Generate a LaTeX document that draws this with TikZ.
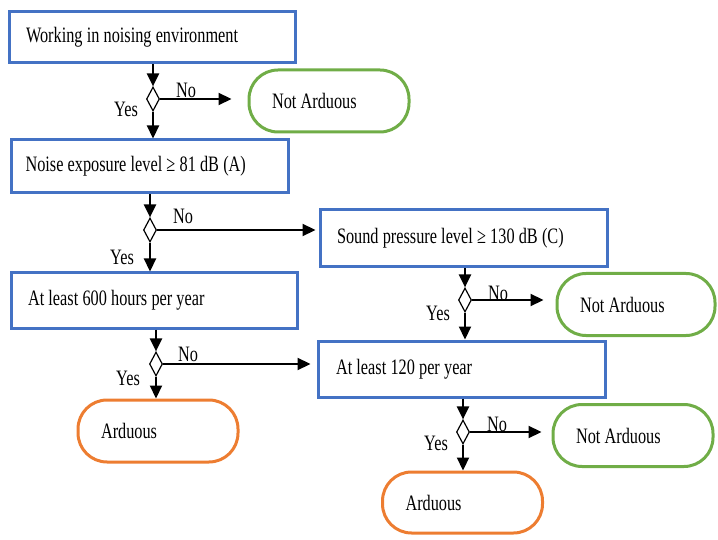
\documentclass[tikz,border=0pt]{standalone}
\usepackage{fontspec}
\setmainfont{Liberation Serif}[FakeStretch=0.74]
\usetikzlibrary{arrows.meta,shapes.geometric}
\definecolor{stepblue}{HTML}{4472C4}
\definecolor{leafgreen}{HTML}{70AD47}
\definecolor{tangerine}{HTML}{ED7D31}
\newcommand{\flowfont}{\fontsize{22}{25}\selectfont}

\begin{document}
\begin{tikzpicture}[x=1pt,y=-1pt,
  every node/.style={execute at begin node={\spaceskip=4.2pt plus 1pt minus 1pt\relax}},
  box/.style={draw=stepblue,line width=3pt,text width=252pt,inner xsep=17pt,align=left,font=\flowfont},
  term/.style={draw=#1,line width=3pt,rounded corners=29pt,minimum height=62pt,text width=114pt,inner xsep=23pt,align=left,font=\flowfont},
  dec/.style={draw,fill=white,diamond,line width=1.2pt,inner sep=0pt,minimum width=13pt,minimum height=24pt},
  lbl/.style={font=\flowfont,inner sep=0pt},
  arr/.style={-{Triangle[length=13pt,width=12pt]},line width=2.2pt}
]
  \useasboundingbox (0,0) rectangle (718,540);
  \node[box,minimum height=51pt] (work) at (152,37.5) {Working in noising environment};
  \node[box,minimum height=53pt,text width=249pt,inner xsep=14pt] (noise) at (150,166.5) {Noise exposure level ≥ 81 dB (A)};
  \node[box,minimum height=57pt,text width=253pt] (sound) at (463.5,238.5) {Sound pressure level ≥ 130 dB (C)};
  \node[box,minimum height=55pt] (hours) at (154,300.5) {At least 600 hours per year};
  \node[box,minimum height=56pt,text width=251pt,inner xsep=18pt] (times) at (461.5,369) {At least 120 per year};
  \node[term=leafgreen] (na1) at (329,101) {Not Arduous};
  \node[term=leafgreen,text width=112pt] (na2) at (636,304.5) {Not Arduous};
  \node[term=leafgreen] (na3) at (633,435.5) {Not Arduous};
  \node[term=tangerine] (ard1) at (158,431) {Arduous};
  \node[term=tangerine,minimum height=61pt] (ard2) at (462.5,502.5) {Arduous};
  \node[dec] (d1) at (153,99) {};
  \node[dec] (d2) at (150,230) {};
  \node[dec] (d3) at (465,300) {};
  \node[dec] (d4) at (156,364) {};
  \node[dec] (d5) at (463,432) {};
  \node[lbl] (no1) at (186,90) {No};   \node[lbl] (yes1) at (126,109) {Yes};
  \node[lbl] (no2) at (183,216) {No};  \node[lbl] (yes2) at (122,257) {Yes};
  \node[lbl] (no3) at (498,293) {No};  \node[lbl] (yes3) at (438,313) {Yes};
  \node[lbl] (no4) at (188,354) {No};  \node[lbl] (yes4) at (128,378) {Yes};
  \node[lbl] (no5) at (497,424) {No};  \node[lbl] (yes5) at (436,443) {Yes};
  \draw[arr] (work.south -| d1) -- (d1.north); \draw[arr] (d1.south) -- (d1 |- noise.north);
  \draw[arr] (noise.south -| d2) -- (d2.north); \draw[arr] (d2.south) -- (d2 |- hours.north);
  \draw[arr] (sound.south -| d3) -- (d3.north); \draw[arr] (d3.south) -- (d3 |- times.north);
  \draw[arr] (hours.south -| d4) -- (d4.north); \draw[arr] (d4.south) -- (d4 |- ard1.north);
  \draw[arr] (times.south -| d5) -- (d5.north); \draw[arr] (d5.south) -- (d5 |- ard2.north);
  \draw[arr,shorten >=16pt] (d1.east) -- (na1.west |- d1);
  \draw[arr,shorten >=3pt] (d2.east) -- (sound.west |- d2);
  \draw[arr,shorten >=12pt] (d3.east) -- (na2.west |- d3);
  \draw[arr,shorten >=6pt] (d4.east) -- (times.west |- d4);
  \draw[arr,shorten >=10pt] (d5.east) -- (na3.west |- d5);
\end{tikzpicture}
\end{document}
